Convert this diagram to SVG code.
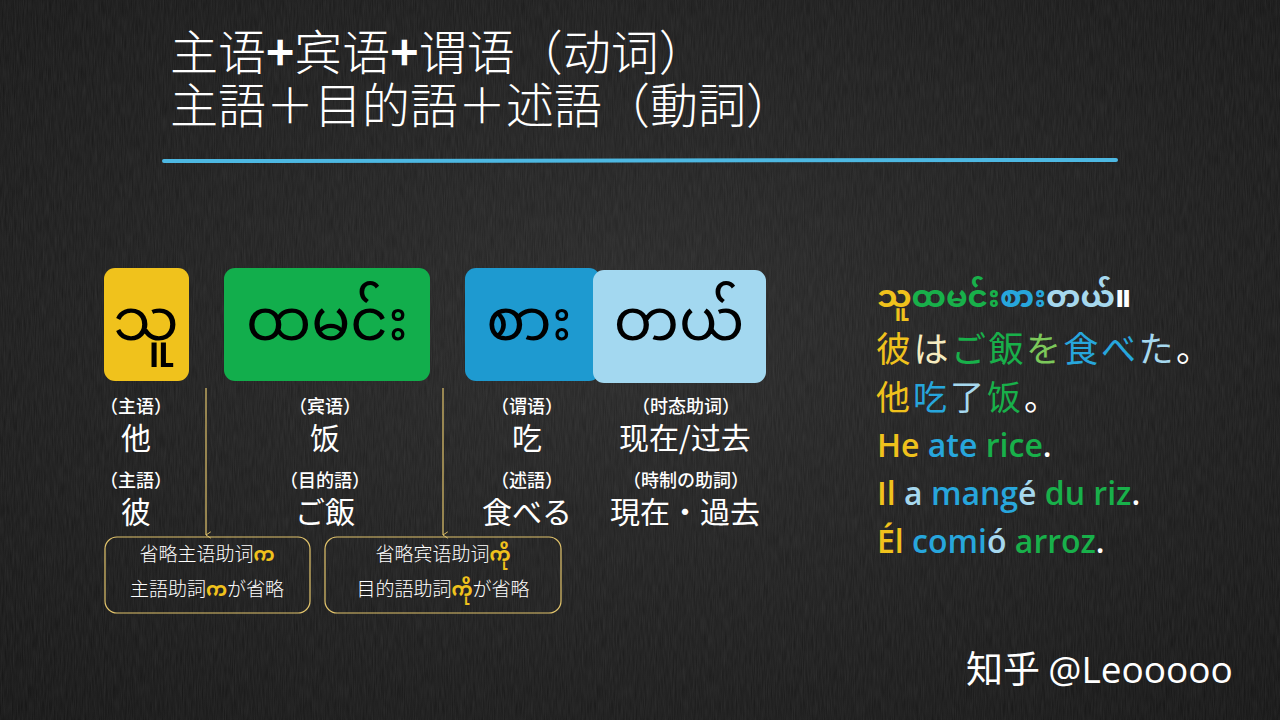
<svg xmlns="http://www.w3.org/2000/svg" width="1280" height="720" viewBox="0 0 1280 720">
<defs>
<radialGradient id="bg" cx="50%" cy="45%" r="75%">
<stop offset="0" stop-color="#282828"/>
<stop offset="1" stop-color="#131313"/>
</radialGradient>
<filter id="noise" x="0" y="0" width="100%" height="100%">
<feTurbulence type="fractalNoise" baseFrequency="0.9 0.06" numOctaves="2" seed="3"/>
<feColorMatrix values="0 0 0 0 1  0 0 0 0 1  0 0 0 0 1  0 0 0 0.09 0"/>
</filter>
<marker id="arr" viewBox="0 0 10 10" refX="5" refY="9" markerWidth="8" markerHeight="8" orient="auto-start-reverse" markerUnits="userSpaceOnUse">
<path d="M1,3 L5,9 L9,3" fill="none" stroke="#e2c46c" stroke-width="1.2"/>
</marker>
<style>
.t{font-family:"Noto Sans CJK SC","Noto Sans",sans-serif;fill:#fff}
.jp{font-family:"Noto Sans CJK JP","Noto Sans",sans-serif;fill:#fff}
.my{font-family:"Noto Sans Myanmar","Noto Sans","DejaVu Sans",sans-serif}
.ttl{font-size:48px;font-weight:300}
.lbl{font-size:18px;font-weight:500;text-anchor:middle}
.big{font-size:30px;text-anchor:middle}
.note{font-size:19px;font-weight:300;text-anchor:middle}
.lat{font-family:"Open Sans","Noto Sans",sans-serif;font-weight:600;font-size:32px}
.y{fill:#f0c21c}.g{fill:#18b04a}.b{fill:#27a6dc}.lb{fill:#a6d8ee}.w{fill:#ffffff}.cr{fill:#f6ecc0}.lg{fill:#7cc85a}
</style>
</defs>
<rect width="1280" height="720" fill="url(#bg)"/>
<rect width="1280" height="720" filter="url(#noise)"/>

<g id="title">
<text class="t ttl" x="170" y="70">主语<tspan font-weight="bold">+</tspan>宾语<tspan font-weight="bold">+</tspan>谓语（动词）</text>
<text class="jp ttl" x="170" y="123">主語＋目的語＋述語（動詞）</text>
<line x1="164" y1="161" x2="1116" y2="160" stroke="#4db8e2" stroke-width="4" stroke-linecap="round"/>
</g>

<g id="node-subject">
<rect x="104" y="268" width="85" height="113" rx="11" fill="#f0c21c"/>
<text class="my" x="146" y="340" font-size="58" text-anchor="middle" fill="#000">သူ</text>
<text class="t lbl" x="136" y="413">（主语）</text>
<text class="t big" x="136" y="449">他</text>
<text class="jp lbl" x="136" y="487">（主語）</text>
<text class="jp big" x="136" y="523">彼</text>
</g>

<g id="node-object">
<rect x="224" y="268" width="206" height="113" rx="11" fill="#12ae4c"/>
<text class="my" x="327" y="340" font-size="58" text-anchor="middle" fill="#000">ထမင်း</text>
<text class="t lbl" x="325" y="413">（宾语）</text>
<text class="t big" x="325" y="449">饭</text>
<text class="jp lbl" x="325" y="487">（目的語）</text>
<text class="jp big" x="325" y="523">ご飯</text>
</g>

<g id="node-verb">
<rect x="465" y="268" width="135" height="113" rx="11" fill="#1e9ad0"/>
<text class="my" x="529" y="340" font-size="58" text-anchor="middle" fill="#000">စား</text>
<text class="t lbl" x="527" y="413">（谓语）</text>
<text class="t big" x="527" y="449">吃</text>
<text class="jp lbl" x="527" y="487">（述語）</text>
<text class="jp big" x="527" y="523">食べる</text>
</g>

<g id="node-tense">
<rect x="593" y="270" width="173" height="113" rx="11" fill="#a3d8f0"/>
<text class="my" x="679" y="340" font-size="58" text-anchor="middle" fill="#000">တယ်</text>
<text class="t lbl" x="686" y="413">（时态助词）</text>
<text class="t big" x="685" y="449">现在/过去</text>
<text class="jp lbl" x="686" y="487">（時制の助詞）</text>
<text class="jp big" x="685" y="523">現在・過去</text>
</g>

<g id="connectors" stroke="#e2c46c" stroke-width="1.2" fill="none">
<line x1="206" y1="388" x2="206" y2="535" marker-end="url(#arr)"/>
<line x1="443" y1="388" x2="443" y2="535" marker-end="url(#arr)"/>
</g>

<g id="note-subject">
<rect x="105" y="537" width="205" height="76" rx="12" fill="none" stroke="#e2c46c" stroke-width="1.2"/>
<text class="t note" x="207" y="561">省略主语助词<tspan class="my" fill="#f0c21c" font-weight="bold">က</tspan></text>
<text class="jp note" x="207" y="596">主語助詞<tspan class="my" fill="#f0c21c" font-weight="bold">က</tspan>が省略</text>
</g>

<g id="note-object">
<rect x="325" y="537" width="236" height="76" rx="12" fill="none" stroke="#e2c46c" stroke-width="1.2"/>
<text class="t note" x="443" y="561">省略宾语助词<tspan class="my" fill="#f0c21c" font-weight="bold">ကို</tspan></text>
<text class="jp note" x="443" y="596">目的語助詞<tspan class="my" fill="#f0c21c" font-weight="bold">ကို</tspan>が省略</text>
</g>

<g id="examples">
<text class="my" x="877" y="307" font-size="31" font-weight="bold"><tspan class="y">သူ</tspan><tspan class="g">ထမင်း</tspan><tspan class="b">စား</tspan><tspan class="lb">တယ်</tspan><tspan class="w">။</tspan></text>
<text class="jp" x="876" y="362" font-size="35" letter-spacing="2.5"><tspan class="y">彼</tspan><tspan class="cr">は</tspan><tspan class="g">ご飯</tspan><tspan class="lg">を</tspan><tspan class="b">食べ</tspan><tspan class="lb">た</tspan><tspan class="w">。</tspan></text>
<text class="t" x="876" y="410" font-size="34" letter-spacing="3"><tspan class="y">他</tspan><tspan class="b">吃</tspan><tspan class="lb">了</tspan><tspan class="g">饭</tspan><tspan class="w">。</tspan></text>
<text class="lat" x="877" y="457"><tspan class="y">He</tspan> <tspan class="b">ate</tspan> <tspan class="g">rice</tspan><tspan class="w">.</tspan></text>
<text class="lat" x="877" y="505"><tspan class="y">Il</tspan> <tspan class="lb">a</tspan> <tspan class="b">mang</tspan><tspan class="lb">é</tspan> <tspan class="g">du riz</tspan><tspan class="w">.</tspan></text>
<text class="lat" x="877" y="553"><tspan class="y">Él</tspan> <tspan class="b">comi</tspan><tspan class="lb">ó</tspan> <tspan class="g">arroz</tspan><tspan class="w">.</tspan></text>
</g>

<g id="watermark">
<text class="t" x="966" y="683" font-size="37">知乎  <tspan font-family="Open Sans, sans-serif">@Leooooo</tspan></text>
</g>
</svg>
